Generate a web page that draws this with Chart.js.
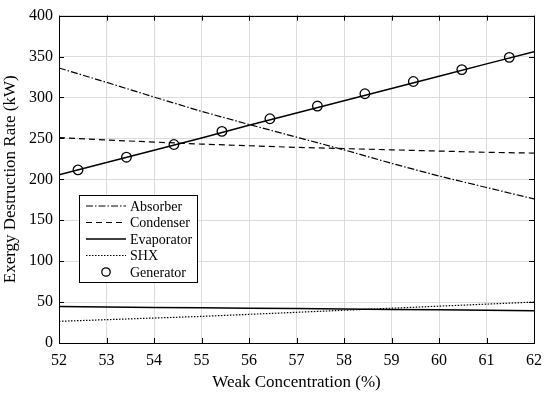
<!DOCTYPE html>
<html><head><meta charset="utf-8">
<script src="https://cdn.jsdelivr.net/npm/chart.js@4"></script>
<style>html,body{margin:0;padding:0;background:#fff}#wrap{width:550px;height:393px}</style>
</head><body><div id="wrap"><canvas id="c" width="550" height="393"></canvas></div>
<script>
const concentration = [52,53,54,55,56,57,58,59,60,61,62];
const absorber   = [336,318.5,300.5,283,267,251.5,236,219.5,204,190,176];
const condenser  = [251,248,245.5,243,241,239,237.5,236,234.5,233,232];
const evaporator = [44.5,44,43.5,43,42.5,42,41.5,41,40.5,40,39.5];
const shx        = [26.5,28.5,30.5,32.5,35,37.5,40,42.5,45,47.5,50];
const generatorLine = [205.5,220.5,235.5,250.5,266,281,296,311,326,341,356];
const genMarkerX = [52.4,53.42,54.42,55.43,56.44,57.44,58.44,59.46,60.48,61.48];
const genMarkerY = [211.5,227,242.5,258.5,274,289.5,304.5,319.5,334,349];
const xTicks = [52,53,54,55,56,57,58,59,60,61,62];
const yTicks = [0,50,100,150,200,250,300,350,400];
const legendLabels = ['Absorber','Condenser','Evaporator','SHX','Generator'];

const pts = (xs, ys) => xs.map((x,i)=>({x, y: ys[i]}));
const FONT = "'Liberation Serif', 'Times New Roman', serif";

const dashes = {Absorber:[7,2,1.5,2], Condenser:[6,4], Evaporator:[], SHX:[1.5,1.5]};

const frame = {
  id:'frame',
  afterDatasetsDraw(chart){
    const {ctx, chartArea:a, scales:{x,y}} = chart;
    ctx.save();
    ctx.strokeStyle='#000'; ctx.lineWidth=1;
    ctx.beginPath();
    xTicks.forEach(v=>{const px=Math.round(x.getPixelForValue(v))+0.5;
      ctx.moveTo(px,a.bottom); ctx.lineTo(px,a.bottom-5);
      ctx.moveTo(px,a.top); ctx.lineTo(px,a.top+5);});
    yTicks.forEach(v=>{const py=Math.round(y.getPixelForValue(v))+0.5;
      ctx.moveTo(a.left,py); ctx.lineTo(a.left+5,py);
      ctx.moveTo(a.right,py); ctx.lineTo(a.right-5,py);});
    ctx.stroke();
    ctx.strokeRect(Math.round(a.left)+0.5, Math.round(a.top)+0.5, Math.round(a.right-a.left), Math.round(a.bottom-a.top));
    // legend
    const bx=79.5, by=195.5, bw=118, bh=87;
    ctx.fillStyle='#fff'; ctx.fillRect(bx,by,bw,bh);
    ctx.strokeRect(bx,by,bw,bh);
    ctx.font = '14px '+FONT; ctx.fillStyle='#000'; ctx.textBaseline='middle'; ctx.textAlign='left';
    const ys=[206,222.5,239,255.5,272];
    legendLabels.forEach((lab,i)=>{
      const yy=ys[i];
      if(lab==='Generator'){
        ctx.beginPath(); ctx.setLineDash([]); ctx.lineWidth=1.3;
        ctx.arc(106,yy,4.2,0,Math.PI*2); ctx.stroke();
      } else {
        ctx.beginPath(); ctx.setLineDash(dashes[lab]); ctx.lineWidth = lab==='Evaporator'?1.5:1.2;
        ctx.moveTo(86,yy); ctx.lineTo(126,yy); ctx.stroke();
      }
      ctx.setLineDash([]);
      ctx.fillText(lab,130,yy+1);
    });
    ctx.restore();
  }
};

const lineDs = (label, ys, dash, w) => ({label, data: pts(concentration, ys), borderColor:'#000', borderWidth:w,
  borderDash:dash, pointRadius:0, showLine:true, fill:false, tension:0});

new Chart(document.getElementById('c'), {
  type:'scatter',
  data:{datasets:[
    lineDs('Absorber', absorber, dashes.Absorber, 1.2),
    lineDs('Condenser', condenser, dashes.Condenser, 1.2),
    lineDs('Evaporator', evaporator, [], 1.5),
    lineDs('SHX', shx, dashes.SHX, 1.2),
    lineDs('GeneratorLine', generatorLine, [], 1.5),
    {label:'Generator', data: pts(genMarkerX, genMarkerY), showLine:false, pointRadius:4.8,
      pointBorderColor:'#000', pointBackgroundColor:'rgba(0,0,0,0)', pointBorderWidth:1.3}
  ]},
  options:{
    responsive:false, animation:false,
    layout:{padding:{top:13, right:14, left:0, bottom:0}},
    plugins:{legend:{display:false}, tooltip:{enabled:false}},
    scales:{
      x:{type:'linear', min:52, max:62,
        afterFit(s){s.height=50;},
        afterBuildTicks(s){s.ticks = xTicks.map(v=>({value:v}));},
        grid:{color:'#dcdcdc', drawTicks:false},
        border:{display:false},
        ticks:{color:'#000', font:{family:FONT, size:16}, padding:8, maxRotation:0},
        title:{display:true, text:'Weak Concentration (%)', color:'#000', font:{family:FONT, size:17}, padding:{top:0,bottom:0}}
      },
      y:{type:'linear', min:0, max:400,
        afterFit(s){s.width=59;},
        afterBuildTicks(s){s.ticks = yTicks.map(v=>({value:v}));},
        grid:{color:'#dcdcdc', drawTicks:false},
        border:{display:false},
        ticks:{color:'#000', font:{family:FONT, size:16}, padding:6},
        title:{display:true, text:'Exergy Destruction Rate (kW)', color:'#000', font:{family:FONT, size:17}, padding:{top:0,bottom:2}}
      }
    }
  },
  plugins:[frame]
});
</script></body></html>
